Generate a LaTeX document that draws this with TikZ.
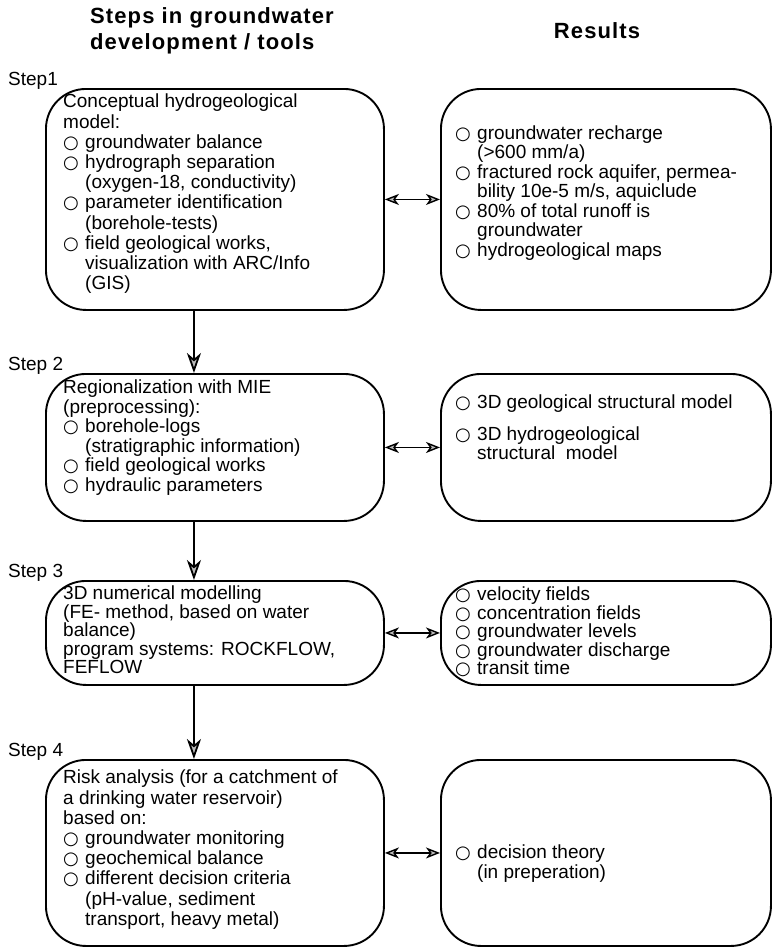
\documentclass[tikz,border=0pt]{standalone}
\usepackage{fontspec}
\setmainfont{Liberation Sans}
\newfontfamily\hdrfont[LetterSpace=5]{Liberation Sans}
\newfontfamily\symfont{DejaVu Sans}
\usetikzlibrary{arrows.meta}
\newcommand\bul{\makebox[22pt][l]{\raisebox{0pt}{\symfont\fontsize{18}{18}\selectfont ○}}}
\newcommand\ind{\hspace*{22pt}}
\begin{document}
\begin{tikzpicture}[x=1pt,y=-1pt,
  box/.style={draw, line width=1.9pt, rounded corners=40pt, inner sep=0pt},
  txt/.style={inner sep=0pt, align=left, font=\fontsize{19}{19.5}\selectfont},
  txtw/.style={inner sep=0pt, align=left, font=\fontsize{19}{20.2}\selectfont},
  txtb/.style={inner sep=0pt, align=left, font=\fontsize{19}{18.5}\selectfont},
  lbl/.style={inner sep=0pt, font=\fontsize{19}{19}\selectfont},
  hdr/.style={inner sep=0pt, font=\hdrfont\bfseries\fontsize{22}{26}\selectfont},
  vflow/.style={-{Stealth[length=20pt,width=14pt,inset=6pt,fill=gray!55]}, line width=1.8pt},
  hflow/.style={{Stealth[length=14pt,width=11pt,inset=4pt,fill=gray!55]}-{Stealth[length=14pt,width=11pt,inset=4pt,fill=gray!55]}, line width=1.4pt},
]
\useasboundingbox (0,0) rectangle (773,948);

% headers
\node[hdr, anchor=west, align=left] (h1) at (90,31) {Steps in groundwater\\development / tools};
\node[hdr] (h2) at (597,31) {Results};

% boxes
\node[box, anchor=north west, minimum width=338pt, minimum height=221pt] (L1) at (45,88) {};
\node[box, anchor=north west, minimum width=330pt, minimum height=221pt] (R1) at (440,88) {};
\node[box, anchor=north west, minimum width=338pt, minimum height=147pt] (L2) at (45,373) {};
\node[box, anchor=north west, minimum width=330pt, minimum height=147pt] (R2) at (440,373) {};
\node[box, anchor=north west, minimum width=338pt, minimum height=104pt] (L3) at (45,580) {};
\node[box, anchor=north west, minimum width=330pt, minimum height=104pt] (R3) at (440,580) {};
\node[box, anchor=north west, minimum width=338pt, minimum height=186pt] (L4) at (45,759) {};
\node[box, anchor=north west, minimum width=330pt, minimum height=186pt] (R4) at (440,759) {};

% step labels
\node[lbl, anchor=base west] (s1) at (8,85) {Step1};
\node[lbl, anchor=base west] (s2) at (8,370) {Step 2};
\node[lbl, anchor=base west] (s3) at (8,577) {Step 3};
\node[lbl, anchor=base west] (s4) at (8,756) {Step 4};

% left texts
\node[txtw, anchor=north west] (tl1) at (63,94) {Conceptual hydrogeological\\model:\\\bul groundwater balance\\\bul hydrograph separation\\\ind(oxygen-18, conductivity)\\\bul parameter identification\\\ind(borehole-tests)\\\bul field geological works,\\\ind visualization with ARC/Info\\\ind(GIS)};
\node[txt, anchor=north west] (tl2) at (63,380) {Regionalization with MIE\\(preprocessing):\\\bul borehole-logs\\\ind(stratigraphic information)\\\bul field geological works\\\bul hydraulic parameters};
\node[txtb, anchor=north west] (tl3) at (63,586) {3D numerical modelling\\(FE- method, based on water\\balance)\\program systems: ROCKFLOW,\\FEFLOW};
\node[txtw, anchor=north west] (tl4) at (63,770) {Risk analysis (for a catchment of\\a drinking water reservoir)\\based on:\\\bul groundwater monitoring\\\bul geochemical balance\\\bul different decision criteria\\\ind(pH-value, sediment\\\ind transport, heavy metal)};

% right texts
\node[txt, anchor=west] (tr1) at (455,193) {\bul groundwater recharge\\\ind(>600 mm/a)\\\bul fractured rock aquifer, permea-\\\ind bility 10e-5 m/s, aquiclude\\\bul 80\% of total runoff is\\\ind groundwater\\\bul hydrogeological maps};
\node[txt, anchor=north west] (tr2) at (455,395) {\bul 3D geological structural model\\[12pt]\bul 3D hydrogeological\\\ind structural\ \ model};
\node[txtb, anchor=west] (tr3) at (455,632) {\bul velocity fields\\\bul concentration fields\\\bul groundwater levels\\\bul groundwater discharge\\\bul transit time};
\node[txt, anchor=north west] (tr4) at (455,845) {\bul decision theory\\\ind(in preperation)};

% connectors
\draw[vflow] ([xshift=-21pt]L1.south) -- ([xshift=-21pt]L2.north);
\draw[vflow] ([xshift=-21pt]L2.south) -- ([xshift=-21pt]L3.north);
\draw[vflow] ([xshift=-21pt]L3.south) -- ([xshift=-21pt]L4.north);
\draw[hflow] (L1.east) -- (R1.west);
\draw[hflow] (L2.east) -- (R2.west);
\draw[hflow] (L3.east) -- (R3.west);
\draw[hflow] (L4.east) -- (R4.west);
\end{tikzpicture}
\end{document}
